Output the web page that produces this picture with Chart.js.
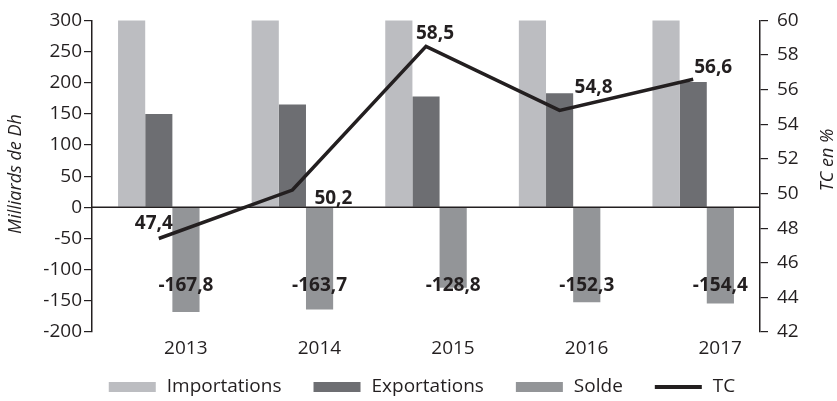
<!DOCTYPE html>
<html>
<head>
<meta charset="utf-8">
<script src="https://cdn.jsdelivr.net/npm/chart.js@4.4.1/dist/chart.umd.min.js"></script>
<style>
  html, body { margin: 0; padding: 0; background: #fff; }
</style>
</head>
<body>
<canvas id="chart" width="837" height="401"></canvas>
<script>
const years = ['2013', '2014', '2015', '2016', '2017'];
const importations = [318.8, 328.7, 310.4, 336.9, 355.8];
const exportations = [150, 165, 178, 183, 201];
const solde = [-167.8, -163.7, -128.8, -152.3, -154.4];
const tc = [47.4, 50.2, 58.5, 54.8, 56.6];

const leftTitle = 'Milliards de Dh';
const rightTitle = 'TC en %';

// where each TC value label sits, relative to its point
const tcOffsets = [[-5, -15], [41, 9], [9, -13], [34, -23], [20, -12]];

const ink = '#231f20';
const fontFamily = "'Open Sans', sans-serif";
Chart.defaults.font.family = fontFamily;
Chart.defaults.font.size = 19;
Chart.defaults.color = ink;

function fmt(v) {
  return v.toFixed(1).replace('.', ',');
}

const extras = {
  id: 'extras',
  afterDatasetDraw(chart, args) {
    if (args.index !== 0) return;
    const ctx = chart.ctx;
    const area = chart.chartArea;
    const y0 = chart.scales.y.getPixelForValue(0);
    ctx.save();
    ctx.strokeStyle = ink;
    ctx.lineWidth = 1.5;
    ctx.beginPath();
    ctx.moveTo(area.left, y0);
    ctx.lineTo(area.right, y0);
    ctx.stroke();
    ctx.restore();
  },
  afterDraw(chart) {
    const ctx = chart.ctx;
    const y0 = chart.scales.y.getPixelForValue(0);
    ctx.save();
    ctx.fillStyle = ink;
    ctx.textAlign = 'center';
    ctx.textBaseline = 'middle';
    ctx.font = 'bold 19px ' + fontFamily;

    chart.getDatasetMeta(2).data.forEach((el, i) => {
      ctx.fillText(fmt(solde[i]), el.x, y0 + 78);
    });
    chart.getDatasetMeta(3).data.forEach((el, i) => {
      ctx.fillText(fmt(tc[i]), el.x + tcOffsets[i][0], el.y + tcOffsets[i][1]);
    });

    // axis titles
    ctx.font = 'italic 18px ' + fontFamily;
    ctx.save();
    ctx.translate(16, 174);
    ctx.rotate(-Math.PI / 2);
    ctx.fillText(leftTitle, 0, 0);
    ctx.restore();
    ctx.save();
    ctx.translate(828, 160);
    ctx.rotate(-Math.PI / 2);
    ctx.fillText(rightTitle, 0, 0);
    ctx.restore();

    // legend
    ctx.font = '19px ' + fontFamily;
    ctx.textAlign = 'left';
    const items = chart.data.datasets;
    const boxW = 47, gap = 11, after = 32;
    let total = 0;
    items.forEach((d, i) => {
      total += boxW + gap + ctx.measureText(d.label).width + (i < items.length - 1 ? after : 0);
    });
    let x = 422 - total / 2;
    const ly = 387;
    items.forEach(d => {
      if (d.type === 'line') {
        ctx.fillStyle = ink;
        ctx.fillRect(x, ly - 2, boxW, 4);
      } else {
        ctx.fillStyle = d.backgroundColor;
        ctx.fillRect(x, ly - 5, boxW, 10);
      }
      ctx.fillStyle = ink;
      ctx.fillText(d.label, x + boxW + gap, ly);
      x += boxW + gap + ctx.measureText(d.label).width + after;
    });
    ctx.restore();
  }
};

const ctx = document.getElementById('chart').getContext('2d');

new Chart(ctx, {
  type: 'bar',
  data: {
    labels: years,
    datasets: [
      { label: 'Importations', data: importations, backgroundColor: '#bcbdc1', order: 1, clip: 0 },
      { label: 'Exportations', data: exportations, backgroundColor: '#6d6e72', order: 1, clip: 0 },
      { label: 'Solde', data: solde, backgroundColor: '#939598', order: 1, clip: 0 },
      {
        label: 'TC', type: 'line', data: tc, yAxisID: 'y1',
        borderColor: ink, backgroundColor: ink, borderWidth: 3.5,
        pointRadius: 0, fill: false, tension: 0, order: 0
      }
    ]
  },
  options: {
    responsive: false,
    devicePixelRatio: 1,
    animation: false,
    layout: { padding: { top: 15, left: 0, right: 0, bottom: 0 } },
    datasets: { bar: { barPercentage: 1, categoryPercentage: 0.61 } },
    plugins: { legend: { display: false }, tooltip: { enabled: false } },
    scales: {
      x: {
        grid: { display: false, drawTicks: false },
        border: { display: false },
        ticks: { padding: 5, labelOffset: 27 },
        afterFit(s) { s.height = 69; }
      },
      y: {
        position: 'left', min: -200, max: 300,
        ticks: { stepSize: 50, padding: 2 },
        grid: { drawOnChartArea: false, color: ink, tickLength: 8, lineWidth: 1.2 },
        border: { color: ink, width: 1.5 },
        afterFit(s) { s.width = 92; }
      },
      y1: {
        position: 'right', min: 42, max: 60,
        ticks: { stepSize: 2, padding: 9 },
        grid: { drawOnChartArea: false, color: ink, tickLength: 8, lineWidth: 1.2 },
        border: { color: ink, width: 1.5 },
        afterFit(s) { s.width = 77; }
      }
    }
  },
  plugins: [extras]
});
</script>
</body>
</html>
